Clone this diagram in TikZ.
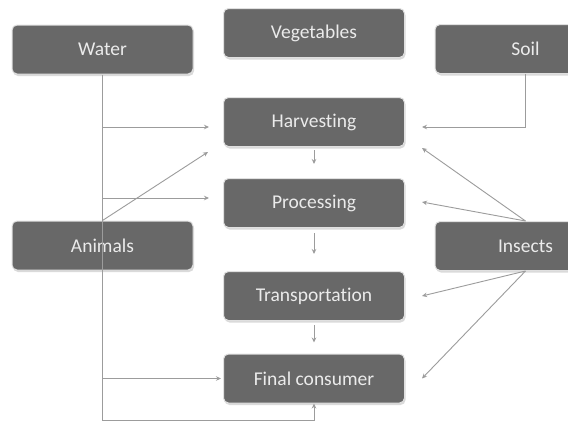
\documentclass[tikz,border=0pt]{standalone}
\usepackage{fontspec}
\setmainfont[Ligatures=NoCommon]{Carlito}
\usetikzlibrary{arrows.meta,calc,shadows}
\definecolor{boxfill}{HTML}{686868}
\definecolor{boxtext}{HTML}{EBEBEB}
\definecolor{linecol}{HTML}{9C9C9C}
\tikzset{
  stagebox/.style={rectangle, rounded corners=5pt, fill=boxfill, draw=black!12,
    line width=1pt, minimum width=181pt, minimum height=49pt, inner sep=0pt,
    text=boxtext, font=\fontsize{19.5}{22}\selectfont,
    drop shadow={shadow xshift=1pt, shadow yshift=-2pt, fill=black!18, opacity=0.8}},
  conn/.style={draw=linecol, line width=0.9pt},
  arr/.style={conn, -{Stealth[length=5pt,width=4.5pt]}}
}
\begin{document}
\begin{tikzpicture}[x=1pt,y=-1pt]
\useasboundingbox (0,0) rectangle (568,424);
\clip (0,0) rectangle (568,424);
\fill[white] (0,0) rectangle (568,424);
% boxes
\node[stagebox] (water)   at (102.5,49.5) {Water};
\node[stagebox] (veg)     at (314,33)     {Vegetables};
\node[stagebox] (soil)    at (525.5,49)   {Soil};
\node[stagebox] (harv)    at (314,122)    {Harvesting};
\node[stagebox] (proc)    at (314,203)    {Processing};
\node[stagebox] (animals) at (102.5,245.5){Animals};
\node[stagebox] (insects) at (525.5,246)  {Insects};
\node[stagebox] (trans)   at (314,296)    {Transportation};
\node[stagebox] (final)   at (314,378.5)  {Final consumer};
% coordinates for arrow ends
\coordinate (wbot) at ($(water.south)+(0,346)$);
\coordinate (harvW) at ($(harv.west)+(-14,5)$);
\coordinate (procW) at ($(proc.west)+(-14,-5)$);
\coordinate (finalW) at ($(final.west)+(-2,0)$);
\coordinate (harvSW) at ($(harv.south west)+(-15,5)$);
\coordinate (harvE) at ($(harv.east)+(17,5)$);
\coordinate (harvSE) at ($(harv.south east)+(17,1)$);
\coordinate (procE) at ($(proc.east)+(17,-1)$);
\coordinate (transE) at ($(trans.east)+(17,0)$);
\coordinate (finalE) at ($(final.east)+(17,0)$);
% main chain
\draw[arr, shorten <=3pt, shorten >=14pt] (harv.south) -- (proc.north);
\draw[arr, shorten <=5pt, shorten >=17pt] (proc.south) -- (trans.north);
\draw[arr, shorten <=4pt, shorten >=11pt] (trans.south) -- (final.north);
% water trunk
\draw[arr] (water.south) -- (wbot) -| (final.south);
\draw[arr] (water.south |- harvW) -- (harvW);
\draw[arr] (water.south |- procW) -- (procW);
\draw[arr] (water.south |- finalW) -- (finalW);
% animals
\draw[arr] (animals.north) -- (harvSW);
% soil
\draw[arr] (soil.south) |- (harvE);
% insects
\draw[arr] (insects.north) -- (harvSE);
\draw[arr] (insects.north) -- (procE);
\draw[arr] (insects.south) -- (transE);
\draw[arr] (insects.south) -- (finalE);
\end{tikzpicture}
\end{document}
